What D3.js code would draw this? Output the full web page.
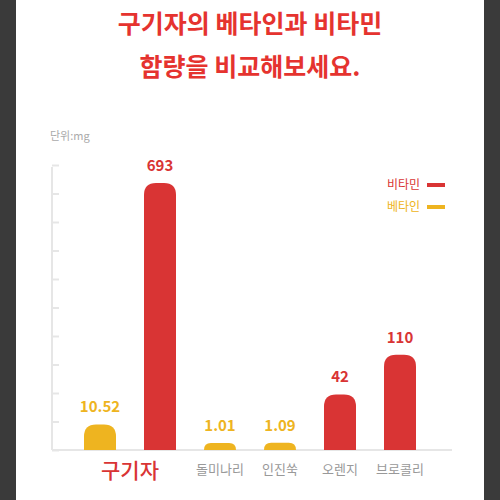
<html>
<head>
<script src="https://cdnjs.cloudflare.com/ajax/libs/d3/7.8.5/d3.min.js"></script>
<style>body{margin:0;background:#fff}</style>
</head>
<body>
<svg id="chart"></svg>
<script>
    // bar keys, one per bar
    const barKeys = ["구기자-베타인", "구기자-비타민", "돌미나리", "인진쑥", "오렌지", "브로콜리"];
    const barSeries = ["베타인", "비타민", "베타인", "베타인", "비타민", "비타민"];
    const barValues = [10.52, 693, 1.01, 1.09, 42, 110];
    const barLabels = ["10.52", "693", "1.01", "1.09", "42", "110"];
    const categories = ["구기자", "돌미나리", "인진쑥", "오렌지", "브로콜리"];
    const categoryBars = [[0, 1], [2], [3], [4], [5]];
    const legendNames = ["비타민", "베타인"];

    const colors = { "비타민": "#d93434", "베타인": "#eeb420" };
    const font = "'Noto Sans CJK KR', 'Noto Sans', sans-serif";

    const svg = d3.select('#chart').attr('width', 500).attr('height', 500);

    // dark side strips of the screenshot
    svg.append('rect').attr('x', 0).attr('y', 0).attr('width', 16).attr('height', 500).attr('fill', '#3a3a3a');
    svg.append('rect').attr('x', 484).attr('y', 0).attr('width', 16).attr('height', 500).attr('fill', '#3a3a3a');

    svg.append('text').attr('x', 250).attr('y', 33).attr('text-anchor', 'middle')
        .attr('font-family', font).attr('font-weight', 700).attr('font-size', 25).attr('fill', '#e5332f')
        .text('구기자의 베타인과 비타민');
    svg.append('text').attr('x', 250).attr('y', 76).attr('text-anchor', 'middle')
        .attr('font-family', font).attr('font-weight', 700).attr('font-size', 25).attr('fill', '#e5332f')
        .text('함량을 비교해보세요.');

    svg.append('text').attr('x', 50).attr('y', 140).attr('font-family', font).attr('font-size', 11)
        .attr('fill', '#aaa').text('단위:mg');

    const baseY = 450;
    const x = d3.scaleBand().domain(barKeys).range([70, 430]);
    const y = d3.scalePow().exponent(0.56).domain([0, 693]).range([baseY, 183]);

    // axis
    const axis = svg.append('g').attr('transform', 'translate(52,0)')
        .call(d3.axisRight(d3.scaleLinear().domain([0, 10]).range([baseY, 165])).ticks(10).tickSize(7).tickFormat(''));
    axis.selectAll('line,path').attr('stroke', '#e6e6e6').attr('stroke-width', 2);
    axis.select('.domain').remove();
    svg.append('line').attr('x1', 52).attr('x2', 52).attr('y1', 167).attr('y2', baseY).attr('stroke', '#e6e6e6').attr('stroke-width', 2);
    svg.append('line').attr('x1', 52).attr('x2', 452).attr('y1', baseY).attr('y2', baseY).attr('stroke', '#e6e6e6').attr('stroke-width', 2);

    const bw = 32;
    function barPath(cx, top) {
        const h = baseY - top, r = Math.min(12, h, bw / 2);
        const l = cx - bw / 2, rt = cx + bw / 2;
        return `M${l},${baseY}V${top + r}Q${l},${top} ${l + r},${top}H${rt - r}Q${rt},${top} ${rt},${top + r}V${baseY}Z`;
    }

    barKeys.forEach((k, i) => {
        const cx = x(k) + x.bandwidth() / 2;
        const top = y(barValues[i]);
        svg.append('path').attr('d', barPath(cx, top)).attr('fill', colors[barSeries[i]]);
        svg.append('text').attr('x', cx).attr('y', top - 12).attr('text-anchor', 'middle')
            .attr('font-family', font).attr('font-weight', 700).attr('font-size', 15)
            .attr('fill', colors[barSeries[i]]).text(barLabels[i]);
    });

    categories.forEach((c, i) => {
        const idx = categoryBars[i];
        const cx = d3.mean(idx, j => x(barKeys[j]) + x.bandwidth() / 2);
        const main = i === 0;
        svg.append('text').attr('x', cx).attr('y', main ? 478 : 474).attr('text-anchor', 'middle')
            .attr('font-family', font).attr('font-size', main ? 21 : 13)
            .attr('font-weight', main ? 500 : 400)
            .attr('fill', main ? '#d93434' : '#999').text(c);
    });

    legendNames.forEach((n, i) => {
        const ly = 185 + i * 22;
        svg.append('text').attr('x', 420).attr('y', ly + 4).attr('text-anchor', 'end')
            .attr('font-family', font).attr('font-size', 12).attr('fill', colors[n]).text(n);
        svg.append('line').attr('x1', 427).attr('x2', 445).attr('y1', ly).attr('y2', ly)
            .attr('stroke', colors[n]).attr('stroke-width', 4);
    });
</script>
</body>
</html>
